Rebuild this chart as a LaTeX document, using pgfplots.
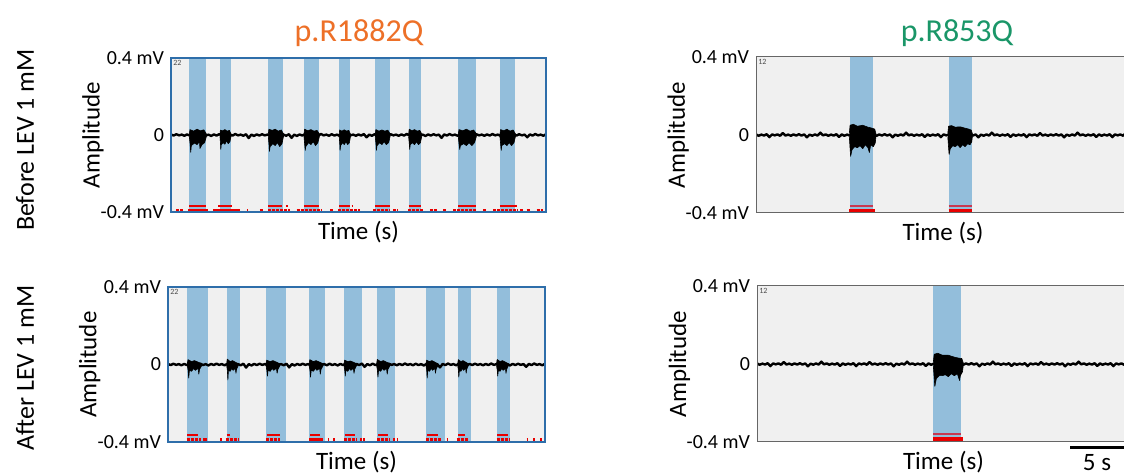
\documentclass[border=0pt]{standalone}
\usepackage{fontspec}
\setmainfont{Carlito}
\usepackage{pgfplots}
\usepackage{pgfplotstable}
\pgfplotsset{compat=1.18}
\definecolor{bandblue}{RGB}{147,190,219}
\definecolor{bggray}{RGB}{240,240,240}
\definecolor{frameblue}{RGB}{46,110,170}
\definecolor{titleorange}{RGB}{237,112,40}
\definecolor{titlegreen}{RGB}{26,150,104}
\definecolor{rasterred}{RGB}{232,0,0}
\definecolor{darkred}{RGB}{200,55,80}
\newcommand\lab{\fontsize{12.5}{14}\selectfont}
\newcommand\tck{\fontsize{10}{12}\selectfont}

\pgfplotstableread[row sep=\\]{x y\\
0 0.003\\ 0.25 -0.003\\ 0.5 0.004\\ 0.75 -0.002\\ 1 0.002\\ 1.25 -0.004\\ 1.5 0.003\\ 1.75 -0.003\\ 2 0.005\\ 2.25 -0.002\\ 2.5 0.002\\ 2.75 -0.004\\ 3 0.004\\ 3.25 -0.003\\ 3.5 0.002\\ 3.75 -0.005\\
4 0.003\\ 4.25 -0.003\\ 4.5 0.004\\ 4.75 -0.002\\ 5 0.002\\ 5.25 -0.004\\ 5.5 0.003\\ 5.75 -0.003\\ 6 0.005\\ 6.25 -0.002\\ 6.5 0.002\\ 6.75 -0.004\\ 7 0.004\\ 7.25 -0.016\\ 7.5 0.002\\ 7.75 -0.005\\
8 0.003\\ 8.25 -0.003\\ 8.5 0.004\\ 8.75 -0.002\\ 9 0.002\\ 9.25 -0.004\\ 9.5 0.003\\ 9.75 -0.003\\ 10 0.005\\ 10.25 -0.002\\ 10.5 0.002\\ 10.75 -0.004\\ 11 0.004\\ 11.25 -0.015\\ 11.5 0.002\\ 11.75 -0.005\\
12 0.003\\ 12.25 -0.003\\ 12.5 0.004\\ 12.75 -0.002\\ 13 0.002\\ 13.25 -0.004\\ 13.5 0.003\\ 13.75 -0.003\\ 14 0.005\\ 14.25 -0.002\\ 14.5 0.002\\ 14.75 -0.004\\ 15 0.004\\ 15.25 -0.003\\ 15.5 0.002\\ 15.75 -0.005\\
16 0.003\\ 16.25 -0.003\\ 16.5 0.004\\ 16.75 -0.002\\ 17 0.002\\ 17.25 -0.004\\ 17.5 0.003\\ 17.75 -0.003\\ 18 0.005\\ 18.25 -0.012\\ 18.5 0.002\\ 18.75 -0.004\\ 19 0.004\\ 19.25 -0.003\\ 19.5 0.002\\ 19.75 -0.005\\
20 0.003\\ 20.25 -0.003\\ 20.5 0.004\\ 20.75 -0.002\\ 21 0.002\\ 21.25 -0.004\\ 21.5 0.003\\ 21.75 -0.003\\ 22 0.005\\ 22.25 -0.002\\ 22.5 0.002\\ 22.75 -0.004\\ 23 0.004\\ 23.25 -0.003\\ 23.5 0.002\\ 23.75 -0.005\\
24 0.003\\ 24.25 -0.003\\ 24.5 0.004\\ 24.75 -0.002\\ 25 0.002\\ 25.25 -0.015\\ 25.5 0.003\\ 25.75 -0.003\\ 26 0.005\\ 26.25 -0.002\\ 26.5 0.002\\ 26.75 -0.004\\ 27 0.004\\ 27.25 -0.003\\ 27.5 0.002\\ 27.75 -0.005\\
28 0.003\\ 28.25 -0.003\\ 28.5 0.004\\ 28.75 -0.002\\ 29 0.002\\ 29.25 -0.004\\ 29.5 0.003\\ 29.75 -0.003\\ 30 0.005\\ 30.25 -0.002\\ 30.5 0.002\\ 30.75 -0.004\\ 31 0.004\\ 31.25 -0.003\\ 31.5 0.002\\ 31.75 -0.005\\
32 0.003\\ 32.25 -0.003\\ 32.5 0.004\\ 32.75 -0.002\\ 33 0.002\\ 33.25 -0.012\\ 33.5 0.003\\ 33.75 -0.003\\ 34 0.005\\ 34.25 -0.002\\ 34.5 0.002\\ 34.75 -0.004\\ 35 0.004\\
}\baseL

\pgfplotstableread[row sep=\\]{x y\\
0 0.003\\ 0.25 -0.004\\ 0.5 0.002\\ 0.75 -0.003\\ 1 0.004\\ 1.25 -0.011\\ 1.5 0.003\\ 1.75 -0.002\\ 2 0.003\\ 2.25 -0.004\\ 2.5 0.010\\ 2.75 -0.003\\ 3 0.002\\ 3.25 -0.004\\ 3.5 0.003\\ 3.75 -0.003\\
4 0.004\\ 4.25 -0.003\\ 4.5 0.003\\ 4.75 -0.012\\ 5 0.002\\ 5.25 -0.004\\ 5.5 0.003\\ 5.75 -0.003\\ 6 0.012\\ 6.25 -0.002\\ 6.5 0.003\\ 6.75 -0.004\\ 7 0.002\\ 7.25 -0.003\\ 7.5 0.004\\ 7.75 -0.010\\
8 0.003\\ 8.25 -0.004\\ 8.5 0.002\\ 8.75 -0.003\\ 9 0.004\\ 9.25 -0.011\\ 9.5 0.003\\ 9.75 -0.002\\ 10 0.003\\ 10.25 -0.004\\ 10.5 0.010\\ 10.75 -0.003\\ 11 0.002\\ 11.25 -0.004\\ 11.5 0.003\\ 11.75 -0.003\\
12 0.004\\ 12.25 -0.003\\ 12.5 0.003\\ 12.75 -0.012\\ 13 0.002\\ 13.25 -0.004\\ 13.5 0.003\\ 13.75 -0.003\\ 14 0.012\\ 14.25 -0.002\\ 14.5 0.003\\ 14.75 -0.004\\ 15 0.002\\ 15.25 -0.003\\ 15.5 0.004\\ 15.75 -0.010\\
16 0.003\\ 16.25 -0.004\\ 16.5 0.002\\ 16.75 -0.003\\ 17 0.004\\ 17.25 -0.011\\ 17.5 0.003\\ 17.75 -0.002\\ 18 0.003\\ 18.25 -0.004\\ 18.5 0.010\\ 18.75 -0.003\\ 19 0.002\\ 19.25 -0.004\\ 19.5 0.003\\ 19.75 -0.003\\
20 0.004\\ 20.25 -0.003\\ 20.5 0.003\\ 20.75 -0.012\\ 21 0.002\\ 21.25 -0.004\\ 21.5 0.003\\ 21.75 -0.003\\ 22 0.012\\ 22.25 -0.002\\ 22.5 0.003\\ 22.75 -0.004\\ 23 0.002\\ 23.25 -0.003\\ 23.5 0.004\\ 23.75 -0.010\\
24 0.003\\ 24.25 -0.004\\ 24.5 0.002\\ 24.75 -0.003\\ 25 0.004\\ 25.25 -0.011\\ 25.5 0.003\\ 25.75 -0.002\\ 26 0.003\\ 26.25 -0.004\\ 26.5 0.010\\ 26.75 -0.003\\ 27 0.002\\ 27.25 -0.004\\ 27.5 0.003\\ 27.75 -0.003\\
28 0.004\\ 28.25 -0.003\\ 28.5 0.003\\ 28.75 -0.012\\ 29 0.002\\ 29.25 -0.004\\ 29.5 0.003\\ 29.75 -0.003\\ 30 0.012\\ 30.25 -0.002\\ 30.5 0.003\\ 30.75 -0.004\\ 31 0.002\\ 31.25 -0.003\\ 31.5 0.004\\ 31.75 -0.010\\
32 0.003\\ 32.25 -0.004\\ 32.5 0.002\\ 32.75 -0.003\\ 33 0.004\\ 33.25 -0.011\\ 33.5 0.003\\ 33.75 -0.002\\ 34 0.003\\ 34.25 -0.004\\ 34.5 0.010\\ 34.75 -0.003\\ 35 0.002\\
}\baseR

\pgfplotsset{
  trace/.style={
    scale only axis, anchor=south west,
    xmin=0, ymin=-0.4, ymax=0.4,
    xtick=\empty, ytick={-0.4,0,0.4},
    yticklabels={-0.4 mV,0\hspace{4pt},0.4 mV},
    major tick length=0pt,
    axis background/.style={fill=bggray},
    xlabel={Time (s)}, ylabel={Amplitude},
    xlabel style={at={(axis description cs:0.5,0)}, anchor=north, yshift=-1pt, font=\lab},
    ylabel style={at={(axis description cs:-0.208,0.5)}, anchor=center, font=\lab},
    yticklabel style={font=\tck},
    axis on top,
  },
  leftframe/.style={axis line style={draw=frameblue, line width=1pt}},
  rightframe/.style={axis line style={draw=gray!80!black, line width=0.5pt}},
  band/.style={fill=bandblue, draw=none, forget plot},
  burst/.style={fill=black, draw=black, line width=0.3pt, line join=round},
  base/.style={black, line width=1.2pt, line join=round},
}

\begin{document}
\begin{tikzpicture}
\useasboundingbox (0,0) rectangle (562pt,238pt);

% ---------------- Top left ----------------
\begin{axis}[trace, leftframe, at={(85.5pt,132pt)}, width=187.5pt, height=77pt, xmax=35]
\addplot[band] coordinates {(1.71,-0.4)(1.71,0.4)(3.24,0.4)(3.24,-0.4)};
\addplot[band] coordinates {(4.57,-0.4)(4.57,0.4)(5.57,0.4)(5.57,-0.4)};
\addplot[band] coordinates {(9.08,-0.4)(9.08,0.4)(10.42,0.4)(10.42,-0.4)};
\addplot[band] coordinates {(12.41,-0.4)(12.41,0.4)(13.81,0.4)(13.81,-0.4)};
\addplot[band] coordinates {(15.70,-0.4)(15.70,0.4)(16.70,0.4)(16.70,-0.4)};
\addplot[band] coordinates {(19.06,-0.4)(19.06,0.4)(20.43,0.4)(20.43,-0.4)};
\addplot[band] coordinates {(22.18,-0.4)(22.18,0.4)(23.35,0.4)(23.35,-0.4)};
\addplot[band] coordinates {(26.81,-0.4)(26.81,0.4)(28.46,0.4)(28.46,-0.4)};
\addplot[band] coordinates {(30.70,-0.4)(30.70,0.4)(32.10,0.4)(32.10,-0.4)};
\addplot[base] table[x=x,y=y] {\baseL};
\addplot[burst] coordinates {(1.71,0.004)(1.77,0.028)(2.11,0.02)(2.43,0.03)(2.74,0.022)(3.06,0.027)(3.30,0.006)(3.30,-0.008)(3.14,-0.04)(2.90,-0.05)(2.70,-0.07)(2.66,-0.035)(2.43,-0.05)(2.19,-0.042)(1.90,-0.055)(1.84,-0.09)(1.79,-0.05)(1.71,-0.008)};
\addplot[burst] coordinates {(4.57,0.004)(4.61,0.025)(4.83,0.022)(5.03,0.028)(5.24,0.02)(5.45,0.024)(5.60,0.005)(5.60,-0.008)(5.50,-0.035)(5.34,-0.045)(5.19,-0.03)(5.03,-0.048)(4.88,-0.04)(4.69,-0.05)(4.65,-0.075)(4.62,-0.045)(4.57,-0.008)};
\addplot[burst] coordinates {(9.08,0.004)(9.14,0.03)(9.44,0.024)(9.72,0.03)(10.00,0.02)(10.29,0.026)(10.50,0.006)(10.50,-0.008)(10.36,-0.045)(10.15,-0.06)(9.93,-0.04)(9.72,-0.055)(9.51,-0.045)(9.25,-0.06)(9.19,-0.085)(9.15,-0.05)(9.08,-0.008)};
\addplot[burst] coordinates {(12.41,0.004)(12.47,0.03)(12.77,0.022)(13.06,0.028)(13.35,0.02)(13.63,0.024)(13.85,0.006)(13.85,-0.008)(13.71,-0.04)(13.49,-0.055)(13.27,-0.035)(13.06,-0.05)(12.84,-0.04)(12.58,-0.06)(12.53,-0.08)(12.48,-0.05)(12.41,-0.008)};
\addplot[burst] coordinates {(15.70,0.004)(15.74,0.026)(15.96,0.02)(16.17,0.027)(16.38,0.02)(16.59,0.024)(16.75,0.005)(16.75,-0.008)(16.65,-0.04)(16.49,-0.05)(16.33,-0.035)(16.17,-0.05)(16.02,-0.04)(15.83,-0.055)(15.78,-0.08)(15.75,-0.045)(15.70,-0.008)};
\addplot[burst] coordinates {(19.06,0.004)(19.12,0.028)(19.41,0.02)(19.69,0.026)(19.96,0.02)(20.24,0.025)(20.45,0.006)(20.45,-0.008)(20.31,-0.04)(20.10,-0.05)(19.89,-0.035)(19.69,-0.05)(19.48,-0.04)(19.23,-0.055)(19.17,-0.08)(19.13,-0.045)(19.06,-0.008)};
\addplot[burst] coordinates {(22.18,0.004)(22.23,0.03)(22.49,0.022)(22.73,0.028)(22.97,0.02)(23.22,0.024)(23.40,0.006)(23.40,-0.008)(23.28,-0.04)(23.10,-0.05)(22.91,-0.035)(22.73,-0.05)(22.55,-0.04)(22.33,-0.05)(22.28,-0.075)(22.24,-0.045)(22.18,-0.008)};
\addplot[burst] coordinates {(26.81,0.004)(26.88,0.028)(27.23,0.022)(27.57,0.03)(27.91,0.02)(28.25,0.026)(28.50,0.006)(28.50,-0.008)(28.33,-0.04)(28.08,-0.055)(27.82,-0.04)(27.57,-0.055)(27.32,-0.045)(27.01,-0.055)(26.95,-0.075)(26.89,-0.05)(26.81,-0.008)};
\addplot[burst] coordinates {(30.70,0.004)(30.76,0.028)(31.06,0.022)(31.35,0.03)(31.64,0.02)(31.93,0.026)(32.15,0.006)(32.15,-0.008)(32.01,-0.04)(31.79,-0.055)(31.57,-0.04)(31.35,-0.055)(31.14,-0.045)(30.87,-0.055)(30.82,-0.08)(30.77,-0.05)(30.70,-0.008)};
\addplot[rasterred, line width=0.9pt, unbounded coords=jump] coordinates {(1.71,-0.367)(3.24,-0.367)(3.24,nan)(4.41,-0.367)(5.66,-0.367)(5.66,nan)(9.08,-0.367)(10.33,-0.367)(10.33,nan)(10.73,-0.367)(10.95,-0.367)(10.95,nan)(12.41,-0.367)(13.84,-0.367)(13.84,nan)(15.70,-0.367)(16.70,-0.367)(16.70,nan)(16.86,-0.367)(17.01,-0.367)(17.01,nan)(19.06,-0.367)(20.43,-0.367)(20.43,nan)(22.18,-0.367)(23.35,-0.367)(23.35,nan)(26.81,-0.367)(28.46,-0.367)(28.46,nan)(30.70,-0.367)(32.25,-0.367)};
\addplot[rasterred, line width=1.5pt, unbounded coords=jump, dash pattern=on 1.6pt off 0.4pt] coordinates {(0.47,-0.39)(1.15,-0.39)(1.15,nan)(1.62,-0.39)(3.48,-0.39)(3.48,nan)(3.95,-0.39)(6.44,-0.39)(6.44,nan)(7.12,-0.39)(7.21,-0.39)(7.21,nan)(8.30,-0.39)(8.61,-0.39)(8.61,nan)(9.08,-0.39)(11.10,-0.39)(11.10,nan)(11.73,-0.39)(14.06,-0.39)(14.06,nan)(14.84,-0.39)(15.15,-0.39)(15.15,nan)(15.61,-0.39)(17.63,-0.39)(17.63,nan)(18.88,-0.39)(20.43,-0.39)(20.43,nan)(20.74,-0.39)(21.21,-0.39)(21.21,nan)(22.14,-0.39)(23.54,-0.39)(23.54,nan)(24.16,-0.39)(24.79,-0.39)(24.79,nan)(25.41,-0.39)(25.72,-0.39)(25.72,nan)(26.34,-0.39)(28.52,-0.39)(28.52,nan)(29.14,-0.39)(29.45,-0.39)(29.45,nan)(30.07,-0.39)(32.40,-0.39)(32.40,nan)(32.56,-0.39)(32.87,-0.39)(32.87,nan)(33.19,-0.39)(33.50,-0.39)(33.50,nan)(34.12,-0.39)(34.74,-0.39)};
\node[anchor=north west, inner sep=1pt, font=\fontsize{4}{4}\selectfont, text=gray!60!black] at (rel axis cs:0,1) {22};
\end{axis}

% ---------------- Bottom left ----------------
\begin{axis}[trace, leftframe, at={(84pt,17pt)}, width=188.5pt, height=77.5pt, xmax=35]
\addplot[band] coordinates {(1.79,-0.4)(1.79,0.4)(3.74,0.4)(3.74,-0.4)};
\addplot[band] coordinates {(5.45,-0.4)(5.45,0.4)(6.68,0.4)(6.68,-0.4)};
\addplot[band] coordinates {(9.10,-0.4)(9.10,0.4)(10.95,0.4)(10.95,-0.4)};
\addplot[band] coordinates {(13.12,-0.4)(13.12,0.4)(14.55,0.4)(14.55,-0.4)};
\addplot[band] coordinates {(16.34,-0.4)(16.34,0.4)(18.01,0.4)(18.01,-0.4)};
\addplot[band] coordinates {(19.43,-0.4)(19.43,0.4)(21.07,0.4)(21.07,-0.4)};
\addplot[band] coordinates {(23.95,-0.4)(23.95,0.4)(25.72,0.4)(25.72,-0.4)};
\addplot[band] coordinates {(26.89,-0.4)(26.89,0.4)(28.10,0.4)(28.10,-0.4)};
\addplot[band] coordinates {(30.51,-0.4)(30.51,0.4)(31.75,0.4)(31.75,-0.4)};
\addplot[base] table[x=x,y=y] {\baseL};
\addplot[burst] coordinates {(1.79,0.004)(1.86,0.025)(2.19,0.015)(2.46,0.02)(2.80,0.012)(3.13,0.004)(3.13,-0.006)(2.93,-0.025)(2.86,-0.05)(2.80,-0.02)(2.53,-0.03)(2.39,-0.02)(2.19,-0.035)(1.99,-0.03)(1.92,-0.07)(1.87,-0.03)(1.79,-0.006)};
\addplot[burst] coordinates {(5.45,0.004)(5.50,0.028)(5.77,0.015)(5.99,0.02)(6.25,0.012)(6.52,0.004)(6.52,-0.006)(6.36,-0.025)(6.31,-0.045)(6.25,-0.02)(6.04,-0.03)(5.93,-0.02)(5.77,-0.035)(5.61,-0.03)(5.56,-0.08)(5.51,-0.03)(5.45,-0.006)};
\addplot[burst] coordinates {(9.10,0.004)(9.16,0.022)(9.49,0.015)(9.75,0.02)(10.07,0.012)(10.39,0.004)(10.39,-0.006)(10.20,-0.025)(10.13,-0.045)(10.07,-0.02)(9.81,-0.03)(9.68,-0.02)(9.49,-0.035)(9.29,-0.03)(9.23,-0.06)(9.18,-0.03)(9.10,-0.006)};
\addplot[burst] coordinates {(13.10,0.004)(13.17,0.025)(13.49,0.015)(13.75,0.02)(14.08,0.012)(14.40,0.004)(14.40,-0.006)(14.21,-0.025)(14.14,-0.05)(14.08,-0.02)(13.82,-0.03)(13.69,-0.02)(13.49,-0.035)(13.30,-0.03)(13.23,-0.065)(13.18,-0.03)(13.10,-0.006)};
\addplot[burst] coordinates {(16.34,0.004)(16.40,0.022)(16.69,0.015)(16.92,0.018)(17.21,0.012)(17.50,0.004)(17.50,-0.006)(17.33,-0.025)(17.27,-0.045)(17.21,-0.02)(16.98,-0.03)(16.86,-0.02)(16.69,-0.035)(16.51,-0.03)(16.46,-0.06)(16.41,-0.03)(16.34,-0.006)};
\addplot[burst] coordinates {(19.37,0.004)(19.43,0.026)(19.74,0.015)(19.99,0.02)(20.29,0.012)(20.60,0.004)(20.60,-0.006)(20.42,-0.025)(20.35,-0.05)(20.29,-0.02)(20.05,-0.03)(19.92,-0.02)(19.74,-0.035)(19.55,-0.03)(19.49,-0.065)(19.44,-0.03)(19.37,-0.006)};
\addplot[burst] coordinates {(23.95,0.004)(24.01,0.022)(24.28,0.015)(24.50,0.02)(24.78,0.012)(25.05,0.004)(25.05,-0.006)(24.89,-0.025)(24.83,-0.045)(24.78,-0.02)(24.56,-0.03)(24.45,-0.02)(24.28,-0.035)(24.12,-0.03)(24.06,-0.07)(24.02,-0.03)(23.95,-0.006)};
\addplot[burst] coordinates {(26.90,0.004)(26.95,0.025)(27.19,0.015)(27.39,0.02)(27.64,0.012)(27.88,0.004)(27.88,-0.006)(27.73,-0.025)(27.68,-0.045)(27.64,-0.02)(27.44,-0.03)(27.34,-0.02)(27.19,-0.035)(27.05,-0.03)(27.00,-0.065)(26.96,-0.03)(26.90,-0.006)};
\addplot[burst] coordinates {(30.50,0.004)(30.56,0.026)(30.83,0.015)(31.05,0.02)(31.33,0.012)(31.60,0.004)(31.60,-0.006)(31.44,-0.025)(31.38,-0.045)(31.33,-0.02)(31.11,-0.03)(31.00,-0.02)(30.83,-0.035)(30.67,-0.03)(30.61,-0.06)(30.57,-0.03)(30.50,-0.006)};
\addplot[rasterred, line width=0.9pt, unbounded coords=jump] coordinates {(1.79,-0.365)(2.82,-0.365)(2.82,nan)(5.45,-0.365)(5.75,-0.365)(5.75,nan)(9.16,-0.365)(10.39,-0.365)(10.39,nan)(13.18,-0.365)(14.11,-0.365)(14.11,nan)(16.43,-0.365)(17.35,-0.365)(17.35,nan)(19.52,-0.365)(20.44,-0.365)(20.44,nan)(24.01,-0.365)(25.09,-0.365)(25.09,nan)(26.94,-0.365)(27.56,-0.365)(27.56,nan)(30.56,-0.365)(31.58,-0.365)};
\addplot[rasterred, line width=1.6pt, unbounded coords=jump, dash pattern=on 1.6pt off 0.4pt] coordinates {(1.73,-0.39)(2.82,-0.39)(2.82,nan)(2.91,-0.39)(3.03,-0.39)(3.03,nan)(3.28,-0.39)(3.59,-0.39)(3.59,nan)(4.83,-0.39)(4.98,-0.39)(4.98,nan)(5.38,-0.39)(6.53,-0.39)(6.53,nan)(9.09,-0.39)(10.39,-0.39)(10.39,nan)(13.12,-0.39)(14.35,-0.39)(14.35,nan)(14.88,-0.39)(14.97,-0.39)(14.97,nan)(15.34,-0.39)(15.50,-0.39)(15.50,nan)(16.33,-0.39)(17.51,-0.39)(17.51,nan)(17.82,-0.39)(17.97,-0.39)(17.97,nan)(18.13,-0.39)(18.28,-0.39)(18.28,nan)(19.42,-0.39)(20.60,-0.39)(20.60,nan)(20.91,-0.39)(21.07,-0.39)(21.07,nan)(21.22,-0.39)(21.34,-0.39)(21.34,nan)(23.94,-0.39)(25.40,-0.39)(25.40,nan)(25.86,-0.39)(26.01,-0.39)(26.01,nan)(26.79,-0.39)(27.87,-0.39)(27.87,nan)(30.50,-0.39)(31.74,-0.39)(31.74,nan)(33.29,-0.39)(33.44,-0.39)(33.44,nan)(33.90,-0.39)(34.06,-0.39)(34.06,nan)(34.52,-0.39)(34.68,-0.39)};
\node[anchor=north west, inner sep=1pt, font=\fontsize{4}{4}\selectfont, text=gray!60!black] at (rel axis cs:0,1) {22};
\end{axis}

% ---------------- Top right ----------------
\begin{axis}[trace, rightframe, at={(378pt,131.5pt)}, width=187pt, height=78pt, xmax=34.9]
\addplot[band] coordinates {(8.77,-0.4)(8.77,0.4)(10.95,0.4)(10.95,-0.4)};
\addplot[band] coordinates {(17.98,-0.4)(17.98,0.4)(20.15,0.4)(20.15,-0.4)};
\addplot[base] table[x=x,y=y] {\baseR};
\addplot[burst] coordinates {(8.71,0.01)(8.78,0.05)(9.08,0.055)(9.46,0.045)(9.96,0.05)(10.45,0.04)(10.83,0.035)(11.08,0.03)(11.20,0.005)(11.20,-0.005)(11.13,-0.04)(10.95,-0.06)(10.70,-0.05)(10.58,-0.09)(10.45,-0.065)(10.20,-0.05)(9.96,-0.07)(9.71,-0.055)(9.46,-0.065)(9.21,-0.06)(8.96,-0.075)(8.83,-0.11)(8.78,-0.07)(8.71,-0.01)};
\addplot[burst] coordinates {(17.90,0.01)(17.97,0.045)(18.25,0.048)(18.59,0.04)(19.05,0.042)(19.51,0.035)(19.86,0.03)(20.09,0.025)(20.20,0.005)(20.20,-0.005)(20.13,-0.035)(19.97,-0.05)(19.74,-0.045)(19.51,-0.06)(19.28,-0.05)(19.05,-0.065)(18.82,-0.05)(18.59,-0.06)(18.36,-0.055)(18.13,-0.07)(18.02,-0.10)(17.97,-0.065)(17.90,-0.01)};
\addplot[darkred, line width=1pt, unbounded coords=jump] coordinates {(8.77,-0.3625)(10.95,-0.3625)(10.95,nan)(17.98,-0.3625)(20.15,-0.3625)};
\addplot[rasterred, line width=1.7pt, unbounded coords=jump] coordinates {(8.71,-0.39)(11.14,-0.39)(11.14,nan)(17.98,-0.39)(20.15,-0.39)};
\node[anchor=north west, inner sep=1pt, font=\fontsize{4}{4}\selectfont, text=gray!60!black] at (rel axis cs:0,1) {12};
\end{axis}

% ---------------- Bottom right ----------------
\begin{axis}[trace, rightframe, at={(378.5pt,17pt)}, width=186.5pt, height=78pt, xmax=34.8]
\addplot[band] coordinates {(16.45,-0.4)(16.45,0.4)(19.04,0.4)(19.04,-0.4)};
\addplot[base] table[x=x,y=y] {\baseR};
\addplot[burst] coordinates {(16.45,0.01)(16.53,0.05)(16.87,0.055)(17.29,0.045)(17.85,0.045)(18.41,0.035)(18.83,0.03)(19.11,0.028)(19.25,0.005)(19.25,-0.005)(19.17,-0.04)(18.97,-0.06)(18.90,-0.085)(18.69,-0.05)(18.41,-0.06)(18.13,-0.05)(17.85,-0.065)(17.57,-0.055)(17.29,-0.06)(17.01,-0.06)(16.73,-0.075)(16.59,-0.115)(16.53,-0.07)(16.45,-0.01)};
\addplot[darkred, line width=1pt] coordinates {(16.45,-0.359)(19.04,-0.359)};
\addplot[rasterred, line width=2.2pt] coordinates {(16.40,-0.388)(19.20,-0.388)};
\node[anchor=north west, inner sep=1pt, font=\fontsize{4}{4}\selectfont, text=gray!60!black] at (rel axis cs:0,1) {12};
\end{axis}

% titles, row labels, scale bar
\node[font=\fontsize{16}{18}\selectfont, text=titleorange] at (179.5pt,221.5pt) {p.R1882Q};
\node[font=\fontsize{16}{18}\selectfont, text=titlegreen] at (478.5pt,221.5pt) {p.R853Q};
\node[font=\fontsize{13}{15}\selectfont, rotate=90] at (12.5pt,168pt) {Before LEV 1 mM};
\node[font=\fontsize{13}{15}\selectfont, rotate=90] at (12.5pt,54pt) {After LEV 1 mM};
\draw[line width=1.5pt] (535pt,14pt) -- (562pt,14pt);
\node[font=\lab] at (548.5pt,6.5pt) {5 s};
\end{tikzpicture}
\end{document}
